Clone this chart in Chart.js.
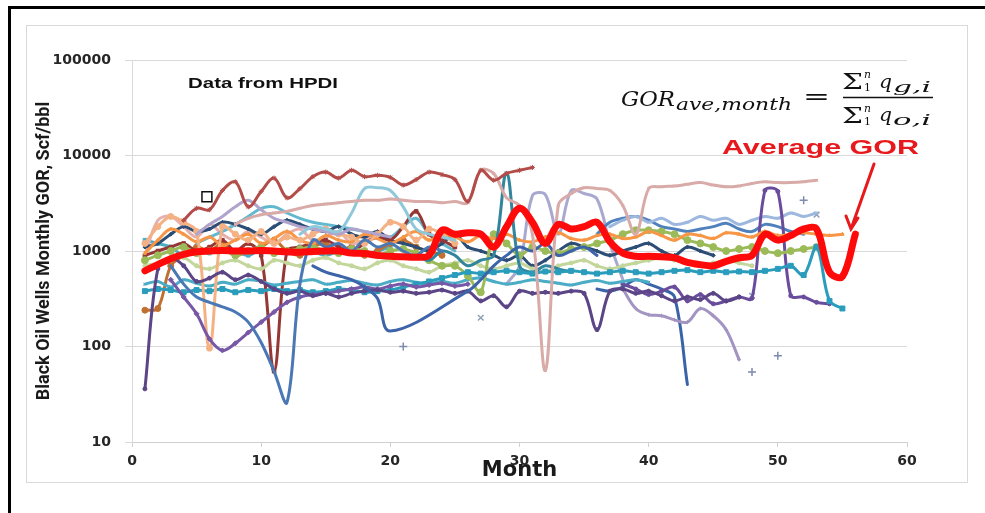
<!DOCTYPE html>
<html>
<head>
<meta charset="utf-8">
<script src="https://cdn.jsdelivr.net/npm/chart.js@4.4.1/dist/chart.umd.min.js"></script>
<style>
  html, body { margin: 0; padding: 0; background: #fff; }
  #wrap { position: relative; width: 985px; height: 513px; overflow: hidden; }
  #frame { position: absolute; left: 8px; top: 6px; width: 1000px; height: 530px;
           border-left: 3px solid #000; border-top: 3px solid #000; }
  #panel { position: absolute; left: 26px; top: 25px; width: 940px; height: 456px;
           border: 1px solid #d9d9d9; }
  #chart { position: absolute; left: 0; top: 0; }
</style>
</head>
<body>
<div id="wrap">
  <div id="frame"></div>
  <div id="panel"></div>
  <canvas id="chart" width="985" height="513"></canvas>
</div>
<script>
// Month index shared by every well series (month 1 .. 56)
const months = [1,2,3,4,5,6,7,8,9,10,11,12,13,14,15,16,17,18,19,20,21,22,23,24,25,26,27,28,
  29,30,31,32,33,34,35,36,37,38,39,40,41,42,43,44,45,46,47,48,49,50,51,52,53,54,55,56];

const yTicks = [10, 100, 1000, 10000, 100000];
const xTicks = [0, 10, 20, 30, 40, 50, 60];

// Average GOR for each month (sum of gas / sum of oil over all wells)
const avgGOR = [620,720,830,920,980,1000,1010,1000,1000,1010,1000,980,970,990,1000,1000,950,940,900,880,
  870,860,900,1650,1500,1550,1500,1100,1800,2800,2000,1200,1900,1700,1800,2000,1250,950,880,880,
  870,850,760,720,700,780,850,900,1500,1300,1450,1700,1700,600,540,1500];

// Individual wells, monthly GOR (Scf/bbl); null = no production that month
const wellA = [null,null,null,2100,2800,2700,4300,5300,2900,4200,5800,3600,4500,6000,6700,5800,7000,6000,6200,5900,
  4900,5600,6700,6300,5600,3300,7000,5500,6500,7000,7500];
const wellB = [null,null,null,null,null,null,null,1900,2200,2400,2500,2600,2800,3000,3100,3200,3300,3400,3400,3500,
  3400,3300,3300,3200,3300,3200,7000,6500,3600,3000,1500,56,3000,4000,4600,4500,4300,3000,1500,4500,
  4700,4800,5000,5200,4900,4700,4800,5100,5300,5200,5200,5300,5500];
const wellC = [null,null,null,null,null,null,null,null,null,null,null,null,1500,1800,1700,1600,2500,4500,4600,4300,
  2900,1700,1500,1400,1300];
const wellD = [null,null,null,null,1500,1900,2300,2900,3400,2700,2200,2000,1800,1700,1600,1500,1700,1600,1500,1400];
const wellE = [null,null,700,450,330,290,260,230,180,110,55,26,450,1300,1100,1200,1000,1300,1100,1200,
  1000,900,1100,1000];
const wellF = [null,null,null,null,null,null,null,null,null,null,null,null,null,700,600,550,500,420,320,145,
  null,null,null,null,null,380,500,700,900,1100,1000,1200,900,1000,1100,900];
const wellG = [36,650,850,700,480,520,600,500,560,480,400,360,380,340,360,330,360,380,390,370,
  380,360,370,390,360,380,300,340,260,380,360,370,360,380,360,150,380,400,360,380,
  340,300,330,310,360,300,330];
const wellH = [null,null,500,330,220,120,91,108,140,180,230,290,330,350,360,380,400,420,400,430,
  450,420,440,460,430,450];
const wellI = [1200,1800,2300,2000,1600,96,1800,1500,1300,1600,1200,1400,1300,1500,1700,1500,1400,1200,1500,2000,
  1800,1300,1700,1500,1200];
const wellJ = [380,400,390,370,390,380,400,370,390,380,400,380,390,370,380,400,390,370,380,390,
  420,450,480,520,560,600,580,600,620,600,580,610,600,620,600,580,600,620,600,580,
  600,620,630,600,620,600,610,600,620,650,700,560,1100,300,250];
const wellK = [null,null,null,null,null,null,null,null,null,null,null,null,null,null,null,null,null,null,null,null,
  null,900,800,1000,900,700,800,900,6600,700,600,700,650,600];
const wellL = [950,1300,1700,1500,1250,1400,1150,1300,1500,1200,1350,1600,1300,1200,1450,1300,1250,1500,1350,1200,
  1400,1600,1300,1500,1400,1250,1450,1350,1500,1300,1250,1400,1550,1350,1300,1450,1500,1350,1400,1600,
  1450,1300,1500,1450,1350,1550,1500,1400,1600,1450,1500,1550,1500,1450,1500];
const wellM = [800,900,1000,1100,950,1000,1050,900,1000,1100,950,1000,1050,1100,1000,950,1050,1000,900,1000,
  1050,950,800,700,700,550,370,1500,1200,900,1100,1000,950,1050,1100,1200,1300,1500,1650,1650,
  1600,1500,1300,1200,1100,1000,1050,1100,1000,950,1000,1050,1100];
const wellN = [700,750,800,850,700,650,750,800,700,650,800,750,700,800,850,750,700,650,750,800,
  700,650,600,700,750,800,700,650,700,750,650,600,700,750,800,700,650,700,750,800,
  850,800,750,700,750,800,750,700];
const wellO = [450,480,420,500,460,430,470,450,500,480,440,460,480,500,450,470,490,460,440,480,
  500,470,450,480,460,500,520,480,450,470,500,480,460,440,470,490,460,480,500,470];
const wellP = [900,1000,1100,1200,1000,1100,1300,1000,1200,900,55,1000,1100,1200,1300,1100,1000,1200,1400,1300,
  1800,2600,1500,1300,1100];
const wellQ = [null,null,null,null,null,null,null,null,null,null,null,null,null,null,null,null,null,null,null,null,
  null,null,null,null,null,null,null,null,null,null,null,null,null,null,null,null,null,450,400,350,
  380,420,300,350,280,300,330,320,4300,4200,340,330,290,280];
const wellR = [null,null,null,null,null,null,null,null,null,null,null,null,null,null,null,null,null,null,null,null,
  null,null,null,null,null,null,null,null,null,null,null,null,null,null,null,null,null,400,250,215,
  210,190,180,250,210,150,73];
const wellT = [null,null,null,null,null,null,null,null,null,null,null,null,null,null,null,null,null,null,null,null,
  null,null,null,null,null,null,null,null,null,null,null,null,null,null,null,400,380,420,500,450,
  400,330,40];
const wellU = [null,null,null,null,null,null,null,null,null,null,null,null,null,null,null,null,null,null,null,null,
  null,null,null,null,null,null,null,null,null,null,null,null,null,null,null,null,1800,2100,2300,2000,
  2200,1900,2000,2300,2100,2200,1900,2100,2300,2200,2500,2300,2500];
const wellV = [null,null,null,null,null,null,null,null,null,null,null,null,null,null,null,null,null,null,null,null,
  null,null,null,null,null,null,null,null,null,null,null,null,null,null,null,1500,2000,2200,2300,2100,
  1800,1700,1600,1700,1800,1950,1700,1600,1900,1800,1600,1500];
const wellW = [1100,1200,1500,1800,1600,1700,2000,1900,1700,1500,1800,2100,1900,1700,1600,1800,1500,1400,1600,1300,
  1200,1100,1000,1200,1500,1100,1000,900,800,900,700,800,1000,1200,1100,1000,900,1000,1100,1200,
  1000,900,1100,1000,900];
const wellX = [null,null,null,null,1200,1400,1600,1900,2300,2800,2900,2500,2200,2000,1900,1800,1700,1600,1500,1400,
  1800,2200,1500,1200,1000];
const wellY = [900,2100,2300,1800,1400,1900,1500,1300,1600,1400,1200,1500,1700,1300,1400,1600,1200,1300,1500,1400];
const wellZ = [240,250,700,900,1100,1000,1200,900,1000,1100,1300,1000,900,1100,1200,1000,1100,900,1000,1200,
  1300,1100,1000,900];
const wellAA = [null,null,null,null,null,null,null,null,null,null,null,null,null,null,null,null,null,null,null,null,
  null,null,null,null,null,null,null,null,450,700,3800,3900,1500,4300,4000,3500,1200,500];
const wellAB = [1300,1200,1100,900,1000,950,1100,1000,900,1050,1000,950,1100,1000,900,1000,1050,950,1000,1100];

// Single-month readings shown as markers only
const plusMonths = [21, 48, 50, 52];
const plusValues = [100, 54, 80, 3400];
const crossMonths = [27, 48, 53];
const crossValues = [200, 340, 2400];
const flagMonths = [5.8];
const flagValues = [3700];

const toXY = (vals, xs = months) => vals.map((v, i) => ({ x: xs[i], y: v }));

function well(vals, color, style, radius, width) {
  return {
    data: toXY(vals), borderColor: color, backgroundColor: color,
    borderWidth: width || 3, pointStyle: style || 'circle', pointRadius: radius === undefined ? 2 : radius,
    pointBorderWidth: 1, order: 1, spanGaps: true
  };
}

const datasets = [
  { label: 'Average GOR', data: toXY(avgGOR), borderColor: '#ff0a0a', backgroundColor: '#ff0a0a',
    borderWidth: 7, pointRadius: 0, order: 0, tension: 0.35 },
  well(wellA, '#b34c49', 'star', 2.5),
  well(wellB, '#d9aba8', 'crossRot', 2),
  well(wellC, '#8fc8da', 'circle', 0),
  well(wellD, '#b0a4cc', 'circle', 0),
  well(wellE, '#4a78b5', 'circle', 0),
  well(wellF, '#3d64a8', 'circle', 0),
  well(wellG, '#5b4586', 'circle', 2),
  well(wellH, '#7758a6', 'rectRot', 2.5),
  well(wellI, '#f4b183', 'circle', 3),
  well(wellJ, '#2a9cbc', 'rect', 3.5),
  well(wellK, '#31859c', 'circle', 0),
  well(wellL, '#f79646', 'triangle', 2),
  well(wellM, '#9bbb59', 'circle', 3.5),
  well(wellN, '#c3d69b', 'circle', 2),
  well(wellO, '#4bacc6', 'crossRot', 2),
  well(wellP, '#953735', 'rect', 2.5),
  well(wellQ, '#6a4c9c', 'circle', 2),
  well(wellR, '#a394c2', 'cross', 2),
  well(wellT, '#3a64a8', 'circle', 0),
  well(wellU, '#9db8de', 'crossRot', 2),
  well(wellV, '#4f81bd', 'circle', 0),
  well(wellW, '#2c4d75', 'rectRot', 2),
  well(wellX, '#62b8cf', 'circle', 0),
  well(wellY, '#e6b0ae', 'circle', 0),
  well(wellZ, '#c07030', 'circle', 3),
  well(wellAA, '#a9a9d0', 'circle', 0),
  well(wellAB, '#4bacc6', 'rect', 2.5),
  { data: toXY(plusValues, plusMonths), showLine: false, pointStyle: 'cross', pointRadius: 4,
    borderColor: '#7d8bb0', borderWidth: 1.5, order: 1 },
  { data: toXY(crossValues, crossMonths), showLine: false, pointStyle: 'crossRot', pointRadius: 4,
    borderColor: '#8fa0b8', borderWidth: 1.5, order: 1 },
  { data: toXY(flagValues, flagMonths), showLine: false, pointStyle: 'rect', pointRadius: 7,
    borderColor: '#111', backgroundColor: '#fff', borderWidth: 1.5, order: 0 }
];

// Text drawn horizontally stretched to a given width
function fitText(ctx, text, x, y, w, font, color) {
  ctx.save();
  ctx.font = font;
  ctx.fillStyle = color || '#111';
  ctx.textAlign = 'left';
  ctx.textBaseline = 'alphabetic';
  const m = ctx.measureText(text).width;
  ctx.translate(x, y);
  ctx.scale(w / m, 1);
  ctx.fillText(text, 0, 0);
  ctx.restore();
}

const notes = {
  id: 'notes',
  afterDraw(chart) {
    const ctx = chart.ctx;
    const it = s => `italic ${s}px 'DejaVu Serif', 'Liberation Serif', serif`;
    const up = s => `${s}px 'DejaVu Serif', 'Liberation Serif', serif`;

    fitText(ctx, 'Data from HPDI', 188, 88, 150, "bold 14px 'Liberation Sans', Arial, sans-serif", '#111');

    // GOR_ave,month = Σ q_g,i / Σ q_o,i
    fitText(ctx, 'GOR', 621, 106, 54, it(20));
    fitText(ctx, 'ave,month', 676, 110, 116, it(17));
    fitText(ctx, '=', 803, 104, 27, up(22));
    fitText(ctx, 'Σ', 842, 89, 21, up(23));
    fitText(ctx, 'n', 864, 78, 7, it(11));
    fitText(ctx, '1', 864, 91, 7, up(11));
    fitText(ctx, 'q', 879, 88, 13, it(19));
    fitText(ctx, 'g,i', 893, 92, 38, it(14));
    ctx.save();
    ctx.strokeStyle = '#111'; ctx.lineWidth = 1.5;
    ctx.beginPath(); ctx.moveTo(843, 97.5); ctx.lineTo(933, 97.5); ctx.stroke();
    ctx.restore();
    fitText(ctx, 'Σ', 842, 123, 21, up(23));
    fitText(ctx, 'n', 864, 112, 7, it(11));
    fitText(ctx, '1', 864, 125, 7, up(11));
    fitText(ctx, 'q', 879, 121, 13, it(19));
    fitText(ctx, 'o,i', 893, 125, 38, it(14));

    fitText(ctx, 'Average GOR', 722, 154, 197, "bold 21px 'Liberation Sans', Arial, sans-serif", '#e8191c');

    // arrow pointing at the average curve
    ctx.save();
    ctx.strokeStyle = '#e8191c'; ctx.lineWidth = 3; ctx.lineCap = 'round';
    ctx.beginPath();
    ctx.moveTo(874, 164); ctx.lineTo(851, 229);
    ctx.moveTo(846, 216); ctx.lineTo(851, 229); ctx.lineTo(858, 218);
    ctx.stroke();
    ctx.restore();
  }
};

const tickFont = { family: "'DejaVu Sans', Verdana, sans-serif", weight: 'bold', size: 14 };

new Chart(document.getElementById('chart'), {
  type: 'line',
  data: { datasets },
  options: {
    responsive: false,
    animation: false,
    devicePixelRatio: 1,
    layout: { padding: { left: 0, top: 60, right: 78, bottom: 0 } },
    elements: { line: { tension: 0.35, borderCapStyle: 'round', borderJoinStyle: 'round' } },
    plugins: { legend: { display: false }, tooltip: { enabled: false } },
    scales: {
      x: {
        type: 'linear', min: 0, max: 60,
        afterBuildTicks(s) { s.ticks = xTicks.map(v => ({ value: v })); },
        afterFit(s) { s.height = 71; },
        ticks: { font: tickFont, color: '#262626', padding: 6, maxRotation: 0 },
        grid: { drawOnChartArea: false, tickLength: 5, color: '#cfcfcf' },
        border: { color: '#cfcfcf' },
        title: { display: true, text: 'Month', color: '#1a1a1a',
                 font: { family: "'DejaVu Sans', Verdana, sans-serif", weight: 'bold', size: 21 },
                 padding: { top: 0, bottom: 30 } }
      },
      y: {
        type: 'logarithmic', min: 10, max: 100000,
        afterBuildTicks(s) { s.ticks = yTicks.map(v => ({ value: v })); },
        afterFit(s) { s.width = 132; },
        ticks: { font: tickFont, color: '#262626', padding: 14, callback: v => String(v) },
        grid: { color: '#d9d9d9', tickLength: 7 },
        border: { color: '#d9d9d9' },
        title: { display: true, text: 'Black Oil Wells Monthly GOR, Scf/bbl', color: '#1a1a1a',
                 font: { family: "Roboto, 'Liberation Sans', sans-serif", weight: 'bold', size: 18 },
                 padding: { top: 34, bottom: 0 } }
      }
    }
  },
  plugins: [notes]
});
</script>
</body>
</html>
